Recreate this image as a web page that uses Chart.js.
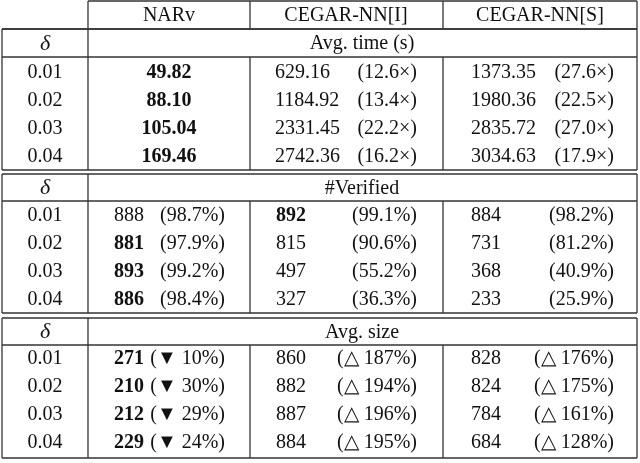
<!DOCTYPE html><html><head><meta charset="utf-8">
<script src="https://cdn.jsdelivr.net/npm/chart.js@4"></script>
<style>html,body{margin:0;padding:0;background:#fff}#w{width:640px;height:463px}</style></head><body>
<div id="w"><canvas id="c"></canvas></div>
<script>
const columns = ["NARv", "CEGAR-NN[I]", "CEGAR-NN[S]"];
const deltas = ["0.01", "0.02", "0.03", "0.04"];
const sections = ["Avg. time (s)", "#Verified", "Avg. size"];
const timeNARv = ["49.82", "88.10", "105.04", "169.46"];
const timeI = ["629.16", "1184.92", "2331.45", "2742.36"];
const timeIx = ["(12.6×)", "(13.4×)", "(22.2×)", "(16.2×)"];
const timeS = ["1373.35", "1980.36", "2835.72", "3034.63"];
const timeSx = ["(27.6×)", "(22.5×)", "(27.0×)", "(17.9×)"];
const verNARv = ["888", "881", "893", "886"];
const verNARvP = ["(98.7%)", "(97.9%)", "(99.2%)", "(98.4%)"];
const verI = ["892", "815", "497", "327"];
const verIP = ["(99.1%)", "(90.6%)", "(55.2%)", "(36.3%)"];
const verS = ["884", "731", "368", "233"];
const verSP = ["(98.2%)", "(81.2%)", "(40.9%)", "(25.9%)"];
const sizeNARv = ["271", "210", "212", "229"];
const sizeNARvP = ["(▼ 10%)", "(▼ 30%)", "(▼ 29%)", "(▼ 24%)"];
const sizeI = ["860", "882", "887", "884"];
const sizeIP = ["(△ 187%)", "(△ 194%)", "(△ 196%)", "(△ 195%)"];
const sizeS = ["828", "824", "784", "684"];
const sizeSP = ["(△ 176%)", "(△ 175%)", "(△ 161%)", "(△ 128%)"];

const FONT = '"Liberation Serif", serif';
const tablePlugin = {
  id: 'table',
  afterDraw(chart) {
    const ctx = chart.ctx, sx = chart.scales.x, sy = chart.scales.y;
    const X = v => sx.getPixelForValue(v), Y = v => sy.getPixelForValue(v);
    ctx.save();
    ctx.strokeStyle = '#333'; ctx.lineWidth = 1.3; ctx.fillStyle = '#111';
    const L = 2, C1 = 88, C2 = 250, C3 = 443, R = 637;
    const line = (x1, y1, x2, y2) => { ctx.beginPath(); ctx.moveTo(X(x1), Y(y1)); ctx.lineTo(X(x2), Y(y2)); ctx.stroke(); };
    const txt = (s, x, y, align, bold) => {
      ctx.font = (bold ? 'bold ' : '') + '20px ' + FONT;
      ctx.textAlign = align; ctx.textBaseline = 'middle'; ctx.fillText(s, X(x), Y(y + 1));
    };
    line(C1, 1, R, 1); line(L, 29, R, 29);
    [C1, C2, C3, R].forEach(x => line(x, 1, x, 29));
    txt(columns[0], 169, 15, 'center'); txt(columns[1], 346, 15, 'center'); txt(columns[2], 540, 15, 'center');
    const blocks = [
      {top: 29, sep: 57, bot: 170, rows: [72, 100, 128, 156]},
      {top: 174, sep: 201, bot: 313, rows: [215, 243, 271, 299]},
      {top: 318, sep: 345, bot: 458, rows: [358, 386, 414, 442]}
    ];
    blocks.forEach((b, k) => {
      line(L, b.top, R, b.top); line(L, b.sep, R, b.sep); line(L, b.bot, R, b.bot);
      line(L, b.top, L, b.bot); line(C1, b.top, C1, b.bot); line(R, b.top, R, b.bot);
      line(C2, b.sep, C2, b.bot); line(C3, b.sep, C3, b.bot);
      const hy = (b.top + b.sep) / 2;
      ctx.font = 'italic 22px ' + FONT; ctx.textAlign = 'center'; ctx.textBaseline = 'middle';
      ctx.fillText('δ', X(45), Y(hy + 1));
      txt(sections[k], 362, hy, 'center');
      b.rows.forEach((y, i) => txt(deltas[i], 45, y, 'center'));
    });
    const b0 = blocks[0].rows, b1 = blocks[1].rows, b2 = blocks[2].rows;
    for (let i = 0; i < 4; i++) {
      txt(timeNARv[i], 169, b0[i], 'center', true);
      txt(timeI[i], 275, b0[i], 'left'); txt(timeIx[i], 417, b0[i], 'right');
      txt(timeS[i], 471, b0[i], 'left'); txt(timeSx[i], 614, b0[i], 'right');
      txt(verNARv[i], 114, b1[i], 'left', i > 0); txt(verNARvP[i], 225, b1[i], 'right');
      txt(verI[i], 276, b1[i], 'left', i === 0); txt(verIP[i], 417, b1[i], 'right');
      txt(verS[i], 471, b1[i], 'left'); txt(verSP[i], 614, b1[i], 'right');
      txt(sizeNARv[i], 114, b2[i], 'left', true); txt(sizeNARvP[i], 225, b2[i], 'right');
      txt(sizeI[i], 276, b2[i], 'left'); txt(sizeIP[i], 417, b2[i], 'right');
      txt(sizeS[i], 471, b2[i], 'left'); txt(sizeSP[i], 614, b2[i], 'right');
    }
    ctx.restore();
  }
};
new Chart(document.getElementById('c'), {
  type: 'scatter',
  data: { datasets: [{ data: [] }] },
  options: {
    responsive: true, maintainAspectRatio: false, animation: false,
    layout: { padding: 0 },
    plugins: { legend: { display: false }, tooltip: { enabled: false } },
    scales: {
      x: { type: 'linear', min: 0, max: 640, display: false },
      y: { type: 'linear', min: 0, max: 463, reverse: true, display: false }
    }
  },
  plugins: [tablePlugin]
});
</script></body></html>
